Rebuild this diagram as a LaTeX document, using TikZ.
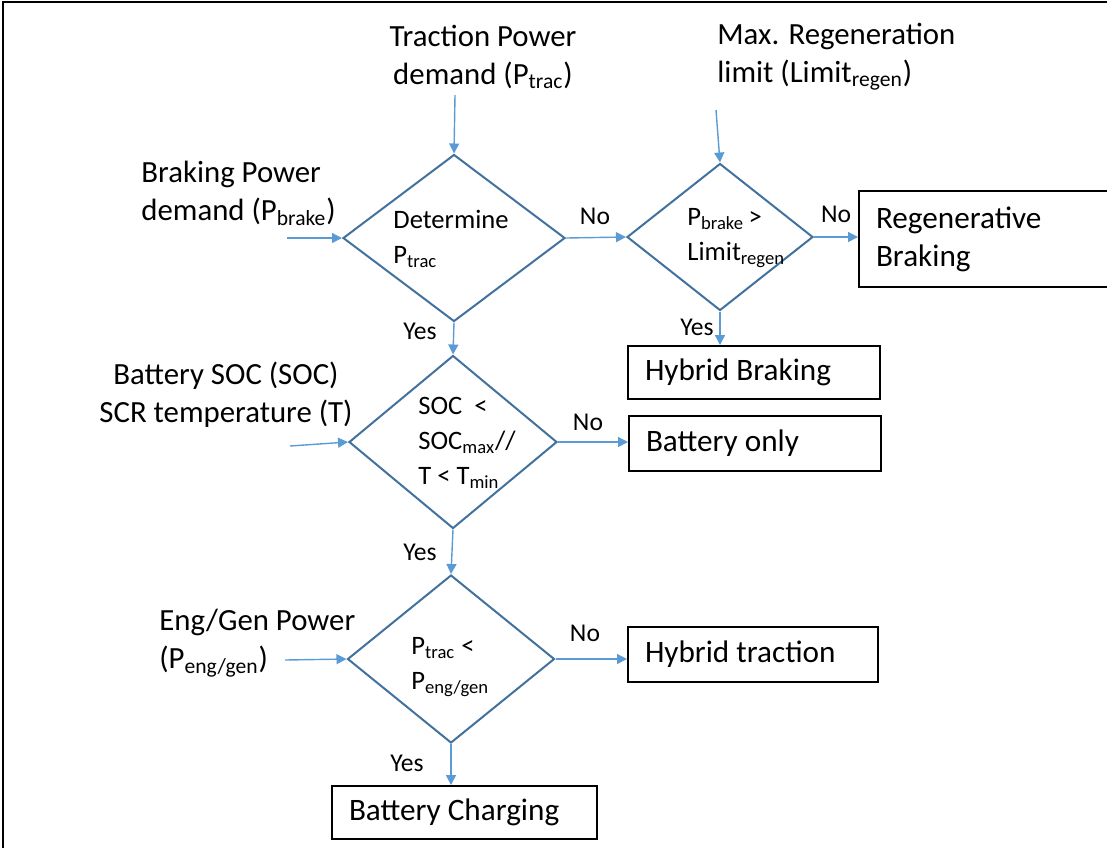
\documentclass[tikz,border=0pt]{standalone}
\usepackage{fontspec}
\setmainfont{Carlito}
\usetikzlibrary{shapes.geometric,arrows.meta}
\definecolor{arrblue}{HTML}{5B9BD5}
\definecolor{decblue}{HTML}{41719C}

\begin{document}
\begin{tikzpicture}[x=0.5pt,y=-0.5pt]
\tikzset{dec/.style={diamond,draw=decblue,line width=1pt,inner sep=0pt},
  dectxt/.style={anchor=west,align=left,inner sep=0pt,font=\fontsize{13.3}{17.5}\selectfont},
  box/.style={draw,line width=1pt,anchor=north west,align=flush left,inner xsep=8.5pt,inner ysep=0pt,font=\fontsize{15.6}{19}\selectfont},
  lbl/.style={inner sep=0pt,font=\fontsize{15.4}{19}\selectfont},
  yn/.style={inner sep=0pt,font=\fontsize{12.8}{15}\selectfont},
  arr/.style={draw=arrblue,line width=0.7pt,-{Triangle[length=5pt,width=5pt]}}}

\useasboundingbox (0,0) rectangle (1107,848);
\clip (0,0) rectangle (1107,848);
\draw[line width=1pt] (3,848) -- (3,2) -- (1107,2);

% decisions
\node[dec,minimum width=111pt,minimum height=83.5pt] (d1) at (454,238) {};
\node[dec,minimum width=93pt,minimum height=73.5pt] (d2) at (720,237) {};
\node[dec,minimum width=104pt,minimum height=86.5pt] (d3) at (453,442) {};
\node[dec,minimum width=103.5pt,minimum height=84pt] (d4) at (451,659) {};
\node[dectxt] (t1) at (393,239) {Determine\\P\textsubscript{trac}};
\node[dectxt] (t2) at (687,238) {P\textsubscript{brake}\,>\\Limit\textsubscript{regen}};
\node[dectxt] (t3) at (418,443) {SOC~ <\\SOC\textsubscript{max}//\\T < T\textsubscript{min}};
\node[dectxt] (t4) at (411,667) {P\textsubscript{trac} <\\P\textsubscript{eng/gen}};

% results
\node[box,text width=140pt,minimum height=48pt] (rb) at (858,190) {Regenerative\\Braking};
\node[box,text width=109pt,minimum height=26.5pt] (hb) at (627,345) {Hybrid Braking};
\node[box,text width=109pt,minimum height=27.5pt] (bo) at (628,415) {Battery only};
\node[box,text width=108pt,minimum height=27.5pt] (ht) at (627,626) {Hybrid traction};
\node[box,text width=115.5pt,minimum height=26.5pt] (bc) at (331,785) {Battery Charging};

% inputs
\node[lbl,align=center] (ptrac) at (483,57) {Traction Power\\demand (P\textsubscript{trac})};
\node[lbl,align=left,anchor=west] (lreg) at (717,57) {Max. Regeneration\\limit (Limit\textsubscript{regen})};
\node[lbl,align=left,anchor=west] (pbrk) at (141,193) {Braking Power\\demand (P\textsubscript{brake})};
\node[lbl,align=center] (soc) at (226,395) {Battery SOC (SOC)\\SCR temperature (T)};
\node[lbl,align=left,anchor=west] (peng) at (159,643) {Eng/Gen Power\\(P\textsubscript{eng/gen})};
\coordinate (i1) at (455,95);
\coordinate (i2) at (716,110);
\coordinate (i3) at (287,238);
\coordinate (i4) at (290,446);
\coordinate (i5) at (285,660);

\draw[arr] (i1) -- (d1.north);
\draw[arr] (i2) -- (d2.north);
\draw[arr] (i3) -- (d1.west);
\draw[arr] (i4) -- (d3.west);
\draw[arr] (i5) -- (d4.west);

\draw[arr] (d1.east) -- (d2.west);
\draw[arr] (d2.east) -- (d2.east -| rb.west);
\draw[arr] (d2.south) -- (d2.south |- hb.north);
\draw[arr] (d1.south) -- (d3.north);
\draw[arr] (d3.east) -- (d3.east -| bo.west);
\draw[arr] (d3.south) -- (d4.north);
\draw[arr] (d4.east) -- (d4.east -| ht.west);
\draw[arr] (d4.south) -- (d4.south |- bc.north);

\node[yn] (n1) at (595,216) {No};
\node[yn] (n2) at (836,214) {No};
\node[yn] (n3) at (588,422) {No};
\node[yn] (n4) at (585,633) {No};
\node[yn] (y1) at (420,331) {Yes};
\node[yn] (y2) at (697,327) {Yes};
\node[yn] (y3) at (420,552) {Yes};
\node[yn] (y4) at (407,763) {Yes};
\end{tikzpicture}
\end{document}
